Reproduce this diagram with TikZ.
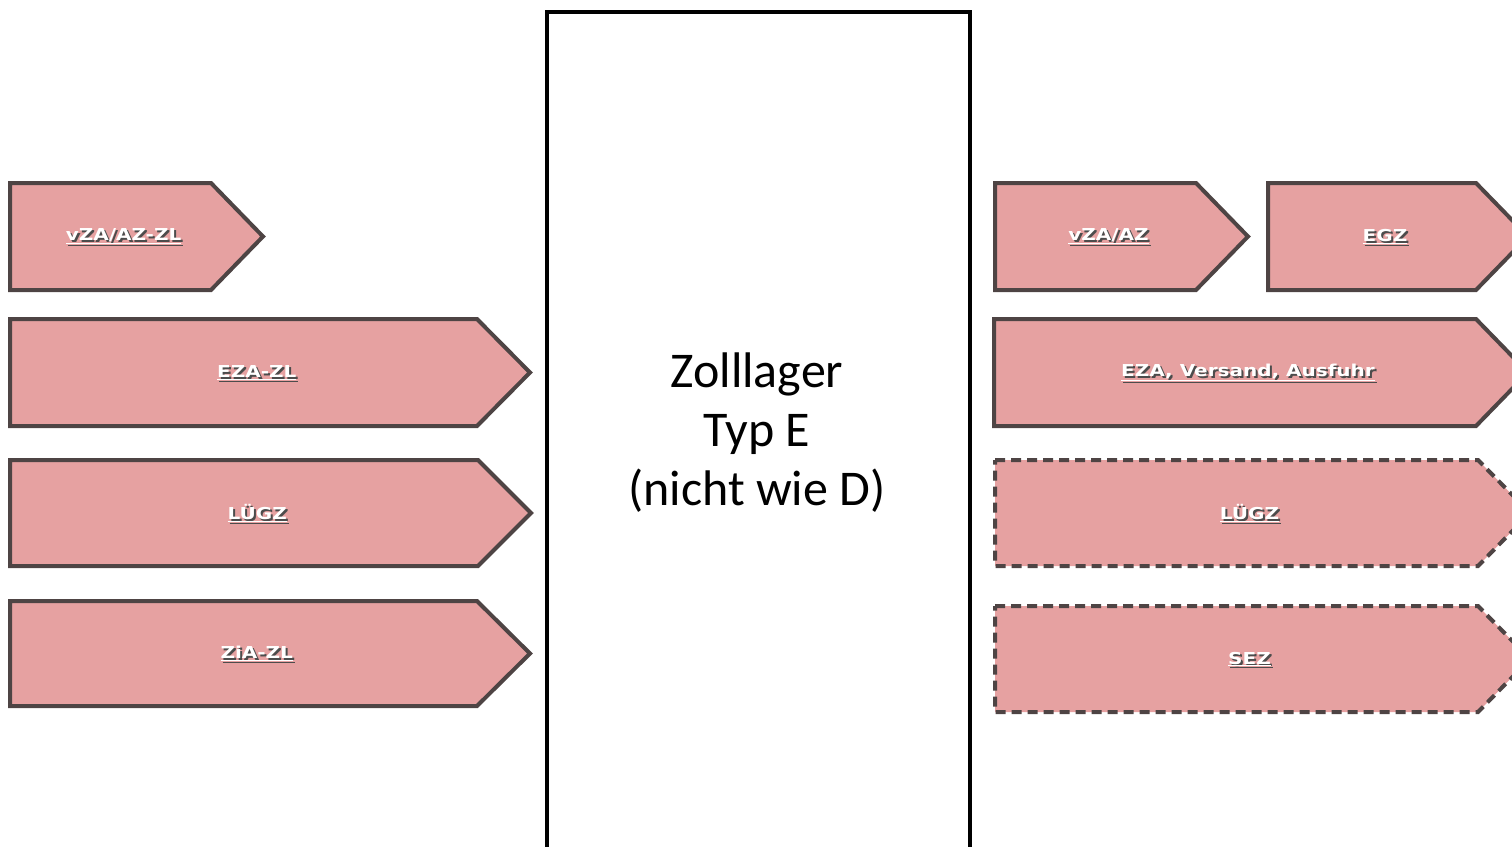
\documentclass[tikz,border=0pt]{standalone}
\usepackage{fontspec}
\setmainfont{Carlito}
\newfontfamily\lblfont{DejaVu Sans}
\definecolor{pinkfill}{HTML}{E6A1A1}
\definecolor{edgegray}{HTML}{4E4444}
\tikzset{
  arrowshape/.style={fill=pinkfill, draw=edgegray, line width=4pt, line join=miter},
  dashedshape/.style={arrowshape, dash pattern=on 10pt off 6pt},
  lbl/.style={text=white, font=\lblfont\bfseries\fontsize{20}{24}\selectfont, inner sep=0pt},
  lblshadow/.style={text=black!70, font=\lblfont\bfseries\fontsize{20}{24}\selectfont, inner sep=0pt},
  mainbox/.style={draw=black, line width=4pt, fill=white},
}
\newcommand{\squash}[1]{\scalebox{1}[0.82]{\underline{#1}}}
% #1 left x, #2 top y, #3 rect right x, #4 tip x, #5 bottom y, #6 style, #7 name, #8 label
\newcommand{\tagshape}[8]{%
  \draw[#6] (#1,#2) -- (#3,#2) -- (#4,{(#2+#5)/2}) -- (#3,#5) -- (#1,#5) -- cycle;
  \node[lblshadow] at ({(#1+(#3+#4)/2)/2+2},{(#2+#5)/2+2}) {\squash{#8}};
  \node[lbl] (#7) at ({(#1+(#3+#4)/2)/2},{(#2+#5)/2}) {\squash{#8}};
}
\begin{document}
\begin{tikzpicture}[x=1pt,y=-1pt]
\useasboundingbox (0,0) rectangle (1512,846);
\clip (0,0) rectangle (1512,846);
% central box
\node[mainbox, minimum width=423pt, minimum height=850pt, anchor=north west, inner sep=0pt] (lager) at (545,10) {};
\node[font=\fontsize{50}{59}\selectfont, align=center] (lagertext) at (757,433) {Zolllager\\Typ E\\(nicht wie D)};
% left side
\tagshape{10}{183}{211}{263}{290}{arrowshape}{l1}{vZA/AZ-ZL}
\tagshape{10}{319}{477}{530}{426}{arrowshape}{l2}{EZA-ZL}
\tagshape{10}{460}{478}{531}{566}{arrowshape}{l3}{LÜGZ}
\tagshape{10}{601}{477}{530}{706}{arrowshape}{l4}{ZiA-ZL}
% right side
\tagshape{995}{183}{1196}{1248}{290}{arrowshape}{r1}{vZA/AZ}
\tagshape{1268}{183}{1476}{1528}{290}{arrowshape}{r2}{EGZ}
\tagshape{994}{319}{1476}{1528}{426}{arrowshape}{r3}{EZA, Versand, Ausfuhr}
\tagshape{995}{460}{1478}{1530}{566}{dashedshape}{r4}{LÜGZ}
\tagshape{995}{606}{1478}{1530}{712}{dashedshape}{r5}{SEZ}
\end{tikzpicture}
\end{document}
